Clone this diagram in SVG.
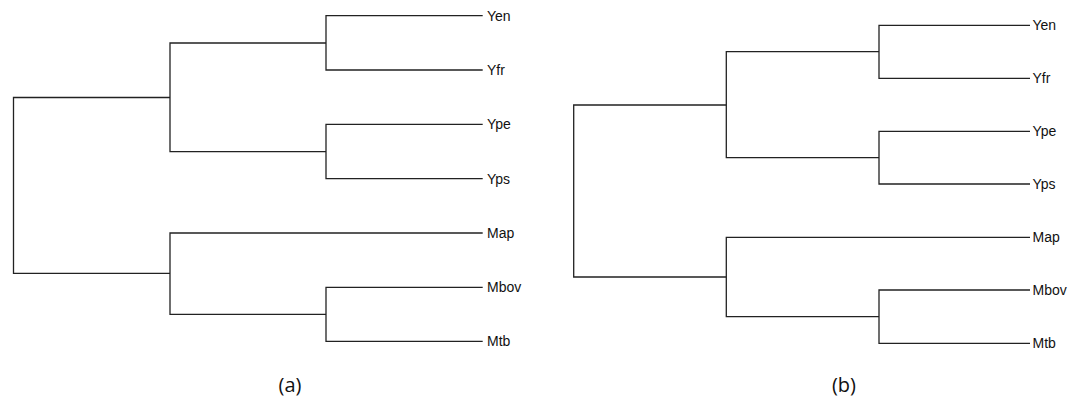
<svg xmlns="http://www.w3.org/2000/svg" width="1080" height="399" viewBox="0 0 1080 399">
<style>
.e{fill:none;stroke:#222;stroke-width:1.3}
.t{font-family:"Liberation Sans",Arial,sans-serif;font-size:14px;fill:#111}
.c{font-family:"Open Sans","Liberation Sans",sans-serif;font-size:20px;fill:#111;text-anchor:middle}
</style>
<rect width="1080" height="399" fill="#fff"/>
<g id="connectors">
<path class="e" d="M170,97.5 H13.5 V273.3 H170"/>
<path class="e" d="M326,43 H170 V151.7 H326"/>
<path class="e" d="M482.7,233 H170 V314.3 H326"/>
<path class="e" d="M482.7,15.7 H326 V70 H482.7"/>
<path class="e" d="M482.7,124.3 H326 V178.7 H482.7"/>
<path class="e" d="M482.7,287.3 H326 V341.3 H482.7"/>
<path class="e" d="M726.3,105 H573.7 V277 H726.3"/>
<path class="e" d="M879,51.7 H726.3 V157.7 H879"/>
<path class="e" d="M1030,237.3 H726.3 V316.7 H879"/>
<path class="e" d="M1030,25.3 H879 V78.3 H1030"/>
<path class="e" d="M1030,131.3 H879 V184 H1030"/>
<path class="e" d="M1030,290 H879 V343.3 H1030"/>
</g>
<g id="tree-a">
<g id="a-Yen"><text class="t" x="487" y="20.7">Yen</text></g>
<g id="a-Yfr"><text class="t" x="487" y="75">Yfr</text></g>
<g id="a-Ype"><text class="t" x="487" y="129.3">Ype</text></g>
<g id="a-Yps"><text class="t" x="487" y="183.7">Yps</text></g>
<g id="a-Map"><text class="t" x="487" y="238">Map</text></g>
<g id="a-Mbov"><text class="t" x="487" y="292.3">Mbov</text></g>
<g id="a-Mtb"><text class="t" x="487" y="346.3">Mtb</text></g>
<g id="label-a"><text class="c" x="290" y="392">(a)</text></g>
</g>
<g id="tree-b">
<g id="b-Yen"><text class="t" x="1032.5" y="30.3">Yen</text></g>
<g id="b-Yfr"><text class="t" x="1032.5" y="83.3">Yfr</text></g>
<g id="b-Ype"><text class="t" x="1032.5" y="136.3">Ype</text></g>
<g id="b-Yps"><text class="t" x="1032.5" y="189">Yps</text></g>
<g id="b-Map"><text class="t" x="1032.5" y="242.3">Map</text></g>
<g id="b-Mbov"><text class="t" x="1032.5" y="295">Mbov</text></g>
<g id="b-Mtb"><text class="t" x="1032.5" y="348.3">Mtb</text></g>
<g id="label-b"><text class="c" x="844" y="392">(b)</text></g>
</g>
</svg>
